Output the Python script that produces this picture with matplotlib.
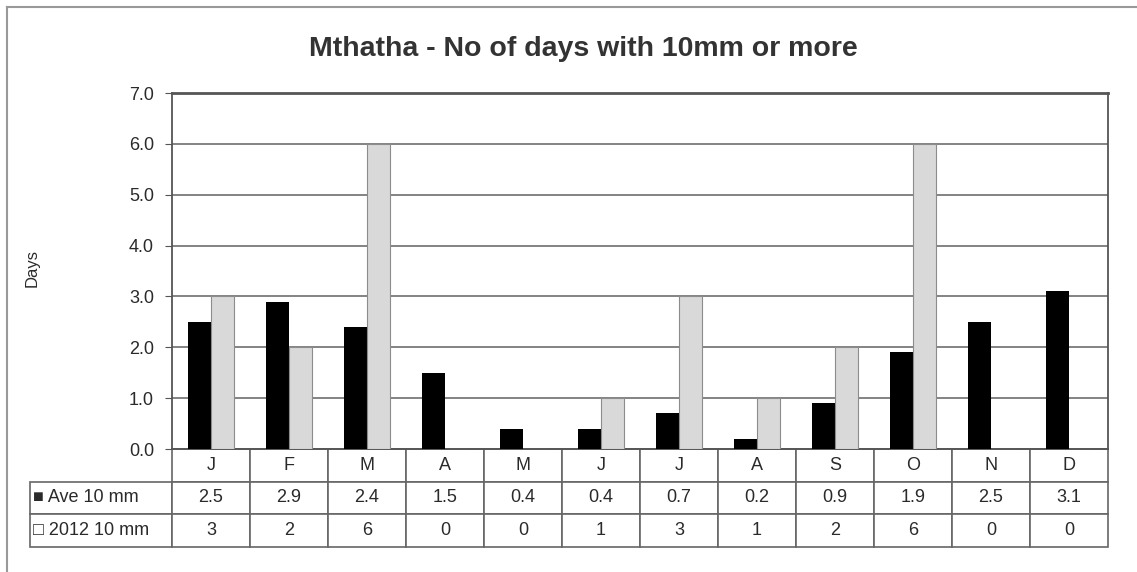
import numpy as np
import matplotlib.pyplot as plt
from matplotlib.lines import Line2D

plt.rcParams['font.family'] = ['Liberation Sans', 'DejaVu Sans']

months = ['J', 'F', 'M', 'A', 'M', 'J', 'J', 'A', 'S', 'O', 'N', 'D']
ave_10mm = [2.5, 2.9, 2.4, 1.5, 0.4, 0.4, 0.7, 0.2, 0.9, 1.9, 2.5, 3.1]
y2012_10mm = [3, 2, 6, 0, 0, 1, 3, 1, 2, 6, 0, 0]
ave_labels = ['2.5', '2.9', '2.4', '1.5', '0.4', '0.4', '0.7', '0.2', '0.9', '1.9', '2.5', '3.1']
y2012_labels = ['3', '2', '6', '0', '0', '1', '3', '1', '2', '6', '0', '0']

W, H = 1137, 572
fig = plt.figure(figsize=(W / 100, H / 100), dpi=100)
txt = '#2a2a2a'

left, right, top, bottom = 172, 1108, 93, 449
ax = fig.add_axes([left / W, 1 - bottom / H, (right - left) / W, (bottom - top) / H])

x = np.arange(len(months))
bw = 0.29
ax.bar(x - bw / 2, ave_10mm, bw, color='black', zorder=3)
ax.bar(x + bw / 2, y2012_10mm, bw, color='#d9d9d9', edgecolor='#8c8c8c', linewidth=0.8, zorder=3)

ax.set_xlim(-0.5, len(months) - 0.5)
ax.set_ylim(0, 7)
ax.set_yticks(np.arange(0, 7.5, 1))
ax.set_yticklabels([f'{v:.1f}' for v in np.arange(0, 7.5, 1)], fontsize=13, color=txt)
ax.set_xticks([])
ax.tick_params(axis='y', length=5, color='#555555', pad=8)
ax.yaxis.grid(True, color='#6e6e6e', linewidth=1.2, zorder=0)
for s in ['left', 'right', 'top', 'bottom']:
    ax.spines[s].set_color('#555555')
    ax.spines[s].set_linewidth(1.3)
ax.spines['top'].set_linewidth(2)

fig.text(583 / W, 1 - 49 / H, 'Mthatha - No of days with 10mm or more', fontsize=20.5,
         fontweight='bold', color='#333333', ha='center', va='center')
fig.text(32 / W, 1 - 268 / H, 'Days', rotation=90, fontsize=12, color=txt, ha='center', va='center')

# data table under the axes
cell_text = [[''] + months,
             ['\u25a0 Ave 10 mm'] + ave_labels,
             ['\u25a1 2012 10 mm'] + y2012_labels]
lab_w = (left - 30) / (right - left)
col_w = [lab_w] + [1 / 12] * 12
tbl_h = (547 - bottom) / (bottom - top)
tbl = ax.table(cellText=cell_text, colWidths=col_w, cellLoc='center',
               bbox=[-lab_w, -tbl_h, 1 + lab_w, tbl_h])
tbl.auto_set_font_size(False)
tbl.set_fontsize(13)
for (r, c), cell in tbl.get_celld().items():
    cell.set_edgecolor('#666666')
    cell.set_linewidth(1.2)
    cell.get_text().set_color(txt)
    if c == 0:
        cell.get_text().set_ha('left')
        cell._loc = 'left'
        cell.PAD = 0.02
    if r == 0 and c == 0:
        cell.set_visible(False)

# outer frame lines (top and left)
fig.add_artist(Line2D([7 / W, 1], [1 - 7 / H, 1 - 7 / H], color='#999999', linewidth=1.5))
fig.add_artist(Line2D([7 / W, 7 / W], [0, 1 - 7 / H], color='#999999', linewidth=1.5))

fig.savefig('out.png', dpi=100)
